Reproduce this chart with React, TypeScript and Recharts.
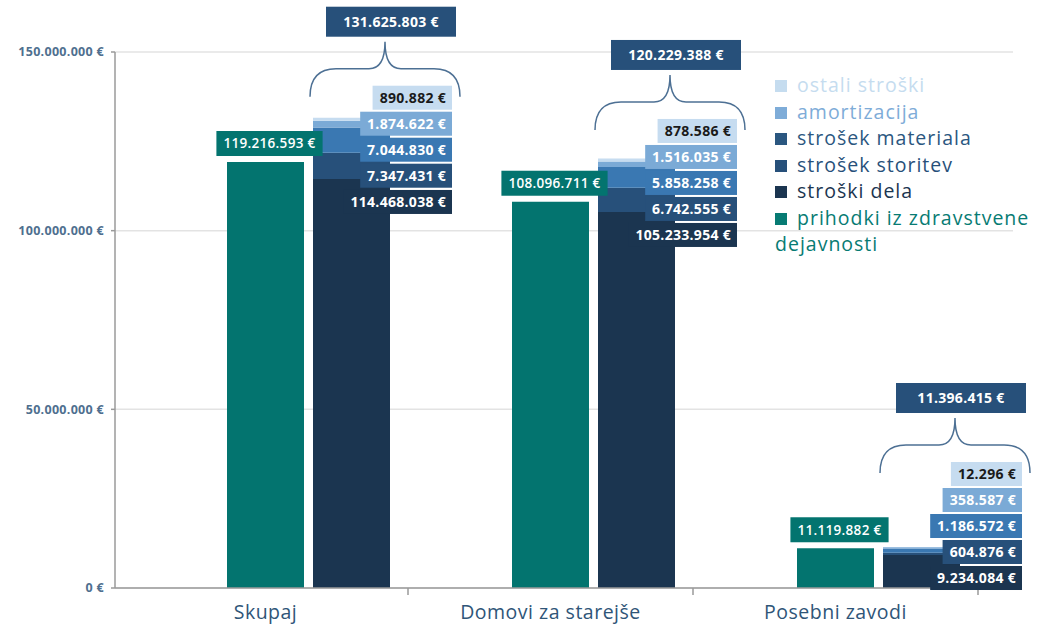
import { BarChart, Bar, XAxis, YAxis, CartesianGrid, LabelList } from 'recharts';

const CATEGORIES = ['Skupaj', 'Domovi za starejše', 'Posebni zavodi'];
const PRIHODKI = [119216593, 108096711, 11119882];
const STROSKI_DELA = [114468038, 105233954, 9234084];
const STROSEK_STORITEV = [7347431, 6742555, 604876];
const STROSEK_MATERIALA = [7044830, 5858258, 1186572];
const AMORTIZACIJA = [1874622, 1516035, 358587];
const OSTALI_STROSKI = [890882, 878586, 12296];
const SKUPNI_STROSKI = [131625803, 120229388, 11396415];
const Y_TICKS = [0, 50000000, 100000000, 150000000];

const FONT = "'Open Sans', sans-serif";
const TEAL = '#03746f';

// stacked cost series, bottom -> top
const STACK = [
  { key: 'dela', name: 'stroški dela', values: STROSKI_DELA, fill: '#1b3550', text: '#fff', legend: '#1b3550' },
  { key: 'storitev', name: 'strošek storitev', values: STROSEK_STORITEV, fill: '#27507a', text: '#fff', legend: '#27507a' },
  { key: 'material', name: 'strošek materiala', values: STROSEK_MATERIALA, fill: '#3a78b2', text: '#fff', legend: '#2b5780' },
  { key: 'amortizacija', name: 'amortizacija', values: AMORTIZACIJA, fill: '#7baad6', text: '#fff', legend: '#7eacd8' },
  { key: 'ostali', name: 'ostali stroški', values: OSTALI_STROSKI, fill: '#c6dcf0', text: '#1a1a1a', legend: '#c5dcef' },
];

const LEGEND = [
  ...[...STACK].reverse().map((s) => ({ name: s.name, color: s.legend })),
  { name: 'prihodki iz zdravstvene dejavnosti', color: '#077b73' },
];

const data = CATEGORIES.map((name, i) => {
  const row: Record<string, any> = { name, prihodki: PRIHODKI[i] };
  STACK.forEach((s) => { row[s.key] = s.values[i]; });
  return row;
});

function fmtEur(v: number) {
  return `${String(v).replace(/\B(?=(\d{3})+(?!\d))/g, '.')} €`;
}

// rough width of a number label in Open Sans
function textWidth(s: string, fs: number, ls = 0) {
  let w = 0;
  for (const ch of s) w += (ch === '.' || ch === ' ' ? 0.27 : 0.573) * fs + ls;
  return w;
}

const LABEL_FS = 14;
const LABEL_LS = 0.3;

const TealLabel = (props: any) => {
  const { x, y, width, value } = props;
  const label = fmtEur(value);
  const w = textWidth(label, 13.5, LABEL_LS) + 14;
  const cx = x + width / 2 + 4;
  return (
    <g>
      <rect x={cx - w / 2} y={y - 31} width={w} height={25} fill={TEAL} />
      <text x={cx} y={y - 13.5} textAnchor="middle" fill="#fff" fontSize={13.5} fontWeight={600} letterSpacing={LABEL_LS} fontFamily={FONT}>
        {label}
      </text>
    </g>
  );
};

// all cost labels for one category, drawn from the top segment
const CostLabels = (props: any) => {
  const { x, y, width, height, value } = props;
  let i = props.index;
  if (i == null) i = OSTALI_STROSKI.indexOf(value);
  const px = height / value;
  const vals = STACK.map((s) => s.values[i]);
  const right = x + width + 62;

  let prev = Infinity;
  const centers = vals.map((_, k) => {
    const above = vals.slice(k + 1).reduce((a, b) => a + b, 0);
    const top = y + above * px;
    const cy = Math.min(top + 23, prev - 26);
    prev = cy;
    return cy;
  });

  const xl = x - 3;
  const xr = x + width + 70;
  const xc = (xl + xr) / 2;
  const yb = centers[4] - 1;
  const yh = yb - 28;
  const yp = yh - 27;
  const brace = `M${xl},${yb} Q${xl},${yh} ${xl + 26},${yh} L${xc - 16},${yh} Q${xc},${yh} ${xc},${yp} Q${xc},${yh} ${xc + 16},${yh} L${xr - 26},${yh} Q${xr},${yh} ${xr},${yb}`;

  return (
    <g>
      {STACK.map((s, k) => {
        const label = fmtEur(vals[k]);
        const w = textWidth(label, LABEL_FS, LABEL_LS) + 13;
        return (
          <g key={s.key}>
            <rect x={right - w} y={centers[k] - 12} width={w} height={24} fill={s.fill} />
            <text x={right - 6} y={centers[k] + 5} textAnchor="end" fill={s.text} fontSize={LABEL_FS} fontWeight={700} letterSpacing={LABEL_LS} fontFamily={FONT}>
              {label}
            </text>
          </g>
        );
      })}
      <path d={brace} fill="none" stroke="#4d7094" strokeWidth={1.5} />
      <rect x={xc + 6 - 65} y={yp - 35} width={130} height={30} fill="#27507a" />
      <text x={xc + 6} y={yp - 15} textAnchor="middle" fill="#fff" fontSize={14} fontWeight={700} letterSpacing={LABEL_LS} fontFamily={FONT}>
        {fmtEur(SKUPNI_STROSKI[i])}
      </text>
    </g>
  );
};

const CategoryTick = (props: any) => {
  const { x, y, payload } = props;
  const half = payload?.offset ?? 0;
  return (
    <g>
      <text x={x} y={y + 31} textAnchor="middle" fill="#2f5578" fontSize={19.5} letterSpacing={0.5} fontFamily={FONT}>
        {payload.value}
      </text>
      {half ? <line x1={x + half} x2={x + half} y1={y} y2={y + 7} stroke="#9a9a9a" strokeWidth={1.5} /> : null}
    </g>
  );
};

export default function App() {
  return (
    <div style={{ position: 'absolute', left: 0, top: 0, width: 1057, height: 632, background: '#fff', fontFamily: FONT }}>
      <BarChart width={1057} height={632} data={data} margin={{ top: 52, right: 44, left: 0, bottom: 0 }} barSize={77} barGap={9}>
        <CartesianGrid vertical={false} stroke="#e3e3e3" strokeWidth={1.5} />
        <XAxis
          dataKey="name"
          height={44}
          padding={{ left: 8, right: 35 }}
          axisLine={{ stroke: '#9a9a9a', strokeWidth: 1.5 }}
          tickLine={false}
          tickSize={0}
          tickMargin={0}
          tick={<CategoryTick />}
          interval={0}
        />
        <YAxis
          width={115}
          domain={[0, 150000000]}
          ticks={Y_TICKS}
          tickFormatter={fmtEur}
          axisLine={{ stroke: '#9a9a9a', strokeWidth: 1.5 }}
          tickLine={{ stroke: '#9a9a9a', strokeWidth: 1.5 }}
          tickSize={4}
          tickMargin={7}
          tick={{ fill: '#4f6f8f', fontSize: 12.5, fontWeight: 700, letterSpacing: 0.3, fontFamily: FONT }}
        />
        <Bar dataKey="spacer" stackId="spacer" fill="transparent" isAnimationActive={false} />
        <Bar dataKey="prihodki" stackId="prihodki" fill={TEAL} isAnimationActive={false}>
          <LabelList dataKey="prihodki" content={(p: any) => <TealLabel {...p} />} />
        </Bar>
        {STACK.map((s, k) => (
          <Bar key={s.key} dataKey={s.key} stackId="costs" fill={s.fill} isAnimationActive={false}>
            {k === STACK.length - 1 && (
              <LabelList dataKey={s.key} content={(p: any) => <CostLabels {...p} />} />
            )}
          </Bar>
        ))}
      </BarChart>

      <div style={{ position: 'absolute', left: 775, top: 72, width: 262 }}>
        {LEGEND.map((l) => (
          <div key={l.name} style={{ color: l.color, fontSize: 19.5, lineHeight: '26.5px', fontWeight: 500, letterSpacing: 1 }}>
            <span style={{ display: 'inline-block', width: 12, height: 12, background: l.color, marginRight: 10, verticalAlign: '0px' }} />
            {l.name}
          </div>
        ))}
      </div>
    </div>
  );
}
